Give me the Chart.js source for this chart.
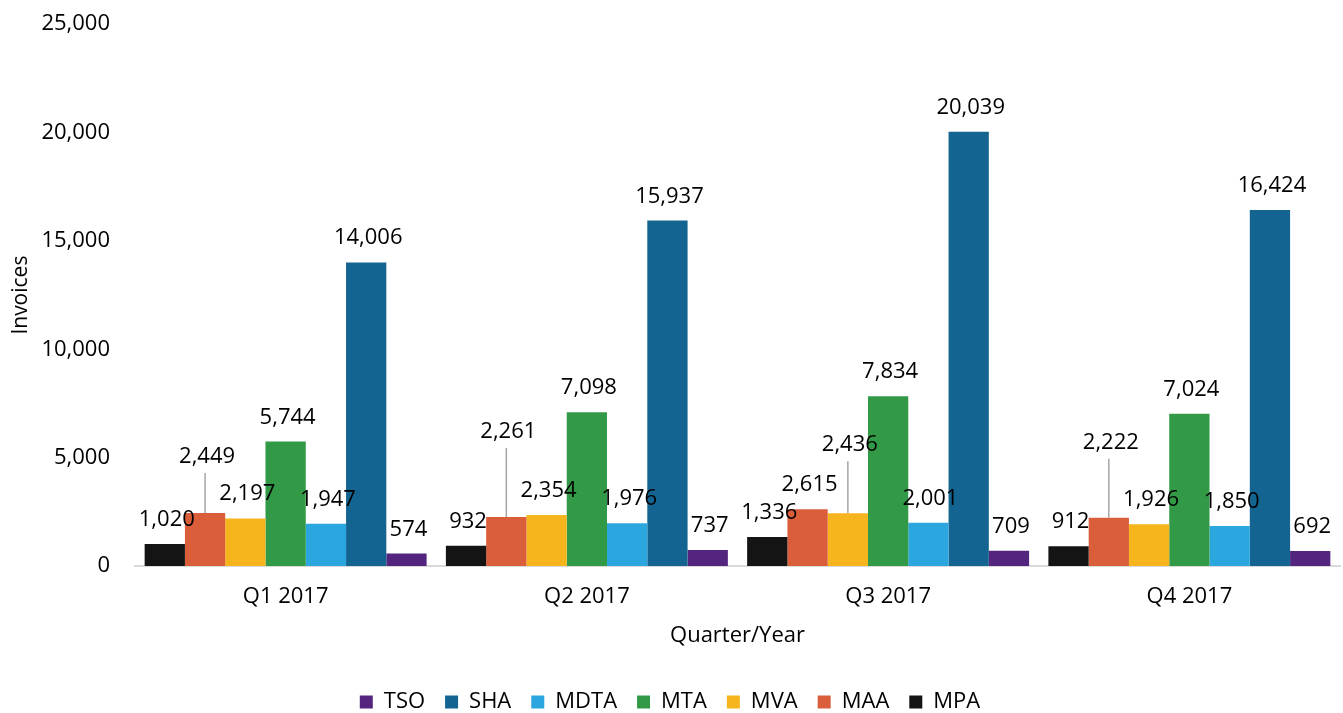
<!DOCTYPE html>
<html>
<head>
<meta charset="utf-8">
<script src="https://cdn.jsdelivr.net/npm/chart.js@4/dist/chart.umd.min.js"></script>
<style>
  html, body { margin: 0; padding: 0; background: #ffffff; }
  #wrap { width: 1343px; height: 713px; position: relative; }
</style>
</head>
<body>
<div id="wrap"><canvas id="c" width="1343" height="713"></canvas></div>
<script>
// ---- Data ----
const categories = ['Q1 2017', 'Q2 2017', 'Q3 2017', 'Q4 2017'];
const seriesNames = ['MPA', 'MAA', 'MVA', 'MTA', 'MDTA', 'SHA', 'TSO'];
const mpaValues  = [1020, 932, 1336, 912];
const maaValues  = [2449, 2261, 2615, 2222];
const mvaValues  = [2197, 2354, 2436, 1926];
const mtaValues  = [5744, 7098, 7834, 7024];
const mdtaValues = [1947, 1976, 2001, 1850];
const shaValues  = [14006, 15937, 20039, 16424];
const tsoValues  = [574, 737, 709, 692];
const yTickMax = 25000;
const yTickStep = 5000;
const xAxisTitle = 'Quarter/Year';
const yAxisTitle = 'Invoices';

// ---- Styles ----
const seriesColors = ['#141414', '#DA5E3A', '#F6B51C', '#329A47', '#2CA6DE', '#146492', '#53257F'];
// extra upward shift (px) of some data labels, drawn with a leader line
const labelLift = {
  MAA: [32, 61, 0, 51],
  MVA: [0, 0, 44, 0]
};
const FONT = "'Open Sans', 'DejaVu Sans', sans-serif";

const allValues = [mpaValues, maaValues, mvaValues, mtaValues, mdtaValues, shaValues, tsoValues];
const datasets = seriesNames.map((name, i) => ({
  label: name,
  data: allValues[i],
  backgroundColor: seriesColors[i],
  borderWidth: 0,
  categoryPercentage: 0.936,
  barPercentage: 1.0
}));

const fmt = v => v.toLocaleString('en-US');

const dataLabelPlugin = {
  id: 'dataLabels',
  afterDatasetsDraw(chart) {
    const ctx = chart.ctx;
    ctx.save();
    ctx.font = '22px ' + FONT;
    ctx.fillStyle = '#000000';
    ctx.textAlign = 'center';
    ctx.textBaseline = 'alphabetic';
    chart.data.datasets.forEach((ds, di) => {
      const meta = chart.getDatasetMeta(di);
      if (meta.hidden) return;
      const lifts = labelLift[ds.label] || [];
      meta.data.forEach((bar, i) => {
        const lift = lifts[i] || 0;
        const baseY = bar.y - 18 - lift;
        if (lift > 0) {
          ctx.strokeStyle = '#A6A6A6';
          ctx.lineWidth = 1.5;
          ctx.beginPath();
          ctx.moveTo(bar.x, baseY + 10);
          ctx.lineTo(bar.x, bar.y);
          ctx.stroke();
        }
        ctx.fillText(fmt(ds.data[i]), bar.x + 2, baseY);
      });
    });
    ctx.restore();
  }
};

new Chart(document.getElementById('c'), {
  type: 'bar',
  data: { labels: categories, datasets },
  options: {
    responsive: false,
    animation: false,
    layout: { padding: { top: 0, right: 3, left: 0, bottom: -10 } },
    plugins: {
      legend: {
        display: true,
        position: 'bottom',
        reverse: true,
        labels: {
          boxWidth: 13,
          boxHeight: 13,
          padding: 20,
          color: '#000000',
          font: { family: FONT, size: 22 }
        }
      },
      tooltip: { enabled: false }
    },
    scales: {
      x: {
        grid: { display: false, drawTicks: false },
        border: { display: true, color: '#D9D9D9', width: 2 },
        ticks: { color: '#000000', font: { family: FONT, size: 22 }, padding: 18 },
        title: {
          display: true, text: xAxisTitle, color: '#000000',
          font: { family: FONT, size: 22 }, padding: { top: 0, bottom: 22 }
        },
        afterFit(scale) { scale.height = 105; }
      },
      y: {
        min: 0, max: yTickMax,
        grid: { display: false, drawTicks: true, tickLength: 14 },
        border: { display: false },
        ticks: {
          stepSize: yTickStep,
          color: '#000000',
          font: { family: FONT, size: 22 },
          padding: 11,
          callback: v => fmt(v)
        },
        title: {
          display: true, text: yAxisTitle, color: '#000000',
          font: { family: FONT, size: 21 }, padding: { top: 8, bottom: 8 }
        },
        afterFit(scale) { scale.width = 135; }
      }
    }
  },
  plugins: [dataLabelPlugin]
});
</script>
</body>
</html>
